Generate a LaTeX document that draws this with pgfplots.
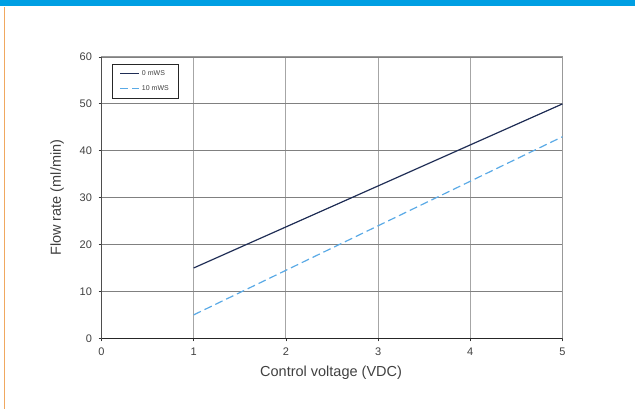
\documentclass[border=0pt]{standalone}
\usepackage{pgfplots}
\pgfplotsset{compat=1.18}
\usepackage{fontspec}
\setmainfont{Liberation Sans}
\definecolor{topblue}{HTML}{009FE3}
\definecolor{edgeorange}{HTML}{F0A860}
\definecolor{navy}{HTML}{1F2D55}
\definecolor{lblue}{HTML}{5AAAE6}
\definecolor{txt}{HTML}{404040}
\begin{document}
\begin{tikzpicture}[x=1pt,y=1pt]
\useasboundingbox (0,0) rectangle (635,409);
\fill[topblue] (0,403) rectangle (635,409);
\draw[edgeorange,line width=1pt] (4.5,0) -- (4.5,402);
\begin{axis}[
  at={(101.5pt,70.7pt)}, anchor=south west,
  scale only axis, width=461pt, height=281.3pt,
  xmin=0, xmax=5, ymin=0, ymax=60,
  xtick={0,1,2,3,4,5}, ytick={0,10,20,30,40,50,60},
  axis line style={draw=gray!80, line width=1pt},
  grid=major,
  x grid style={draw=black!35, line width=0.9pt},
  y grid style={draw=black!50, line width=0.9pt},
  tick align=outside, tick pos=left, major tick length=3pt,
  tick style={black!80, line width=0.8pt},
  /pgf/number format/assume math mode=true,
  ticklabel style={font=\fontsize{11}{12}\selectfont, text=txt},
  xticklabel style={yshift=-3pt},
  yticklabel style={xshift=-3pt},
  xlabel={Control voltage (VDC)}, ylabel={Flow rate (ml/min)},
  every axis x label/.style={at={(axis description cs:0.498,-0.1216)}, anchor=center,
     font=\fontsize{14.5}{16}\selectfont, text=txt},
  every axis y label/.style={at={(axis description cs:-0.0965,0.5)}, rotate=90, anchor=center,
     font=\fontsize{14.5}{16}\selectfont, text=txt},
  legend style={at={(0.022,0.975)}, anchor=north west, draw=black!85, line width=0.7pt,
     font=\fontsize{7}{8}\selectfont, text=txt, inner xsep=8pt, inner ysep=4pt, row sep=5pt},
  legend cell align=left,
  legend image code/.code={\draw[#1,line width=1pt] (0pt,0pt) -- (19pt,0pt);},
]
\addplot[navy, line width=1.2pt] coordinates {(1,15) (5,50)};
\addlegendentry{0 mWS}
\addplot[lblue, line width=1.2pt, dash pattern=on 8pt off 4pt] coordinates {(1,5) (5,43)};
\addlegendentry{10 mWS}
\draw[black!85, line width=1.1pt] (axis cs:0,60) -- (axis cs:0,0) -- (axis cs:5,0);
\end{axis}
\end{tikzpicture}
\end{document}
